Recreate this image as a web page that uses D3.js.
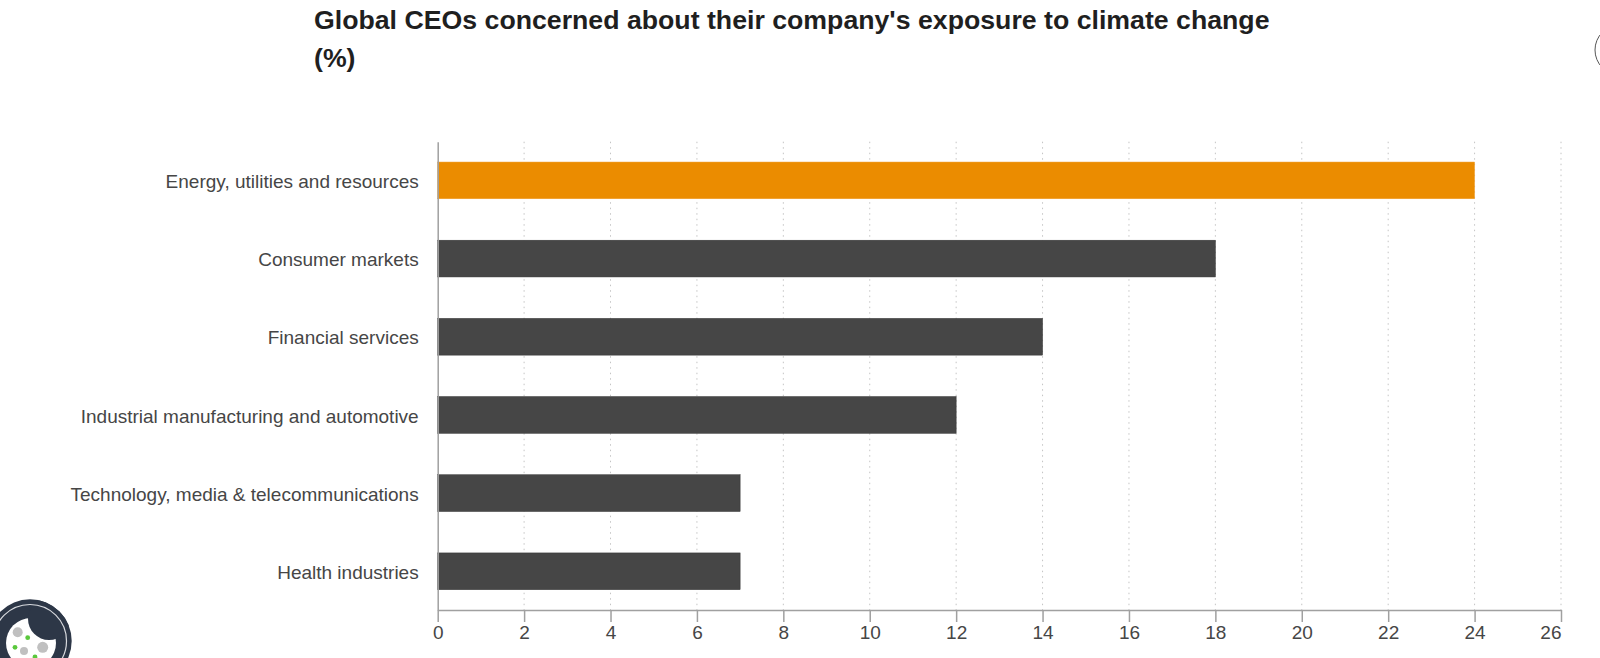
<!DOCTYPE html>
<html>
<head>
<meta charset="utf-8">
<script src="https://cdn.jsdelivr.net/npm/d3@7"></script>
<style>
html, body { margin: 0; padding: 0; background: #fff; overflow: hidden; }
text { font-family: "Liberation Sans", Arial, sans-serif; }
</style>
</head>
<body>
<svg id="chart"></svg>
<script>
const categories = [
    'Energy, utilities and resources',
    'Consumer markets',
    'Financial services',
    'Industrial manufacturing and automotive',
    'Technology, media & telecommunications',
    'Health industries',
];
const values = [24, 18, 14, 12, 7, 7];
const barColors = ['#eb8c00', '#464646', '#464646', '#464646', '#464646', '#464646'];
const barEdges = ['#f0a030', '#333333', '#333333', '#333333', '#333333', '#333333'];
const xTicks = [0, 2, 4, 6, 8, 10, 12, 14, 16, 18, 20, 22, 24, 26];
const titleLines = ["Global CEOs concerned about their company's exposure to climate change", '(%)'];

const width = 1600, height = 658;
const margin = { top: 141.7, right: 39, bottom: 48, left: 437.7 };
const plotW = width - margin.left - margin.right;
const plotH = height - margin.top - margin.bottom;

const svg = d3.select('#chart').attr('width', width).attr('height', height);

svg.selectAll('.title')
    .data(titleLines)
    .join('text')
    .attr('class', 'title')
    .attr('x', 314)
    .attr('y', (d, i) => 29 + i * 37.5)
    .attr('font-size', 26.7)
    .attr('font-weight', 'bold')
    .attr('fill', '#1f1f1f')
    .text(d => d);

const xScale = d3.scaleLinear().domain([0, 26]).range([0, plotW]);
const yScale = d3.scaleBand().domain(categories).range([0, plotH]).paddingInner(0.53).paddingOuter(0.26);

const g = svg.append('g').attr('transform', `translate(${margin.left}, ${margin.top})`);

// dotted grid behind the bars
g.selectAll('.grid')
    .data(xTicks.slice(1))
    .join('line')
    .attr('class', 'grid')
    .attr('x1', d => xScale(d))
    .attr('x2', d => xScale(d))
    .attr('y1', 0)
    .attr('y2', plotH)
    .attr('stroke', '#c4c4c4')
    .attr('stroke-width', 1)
    .attr('stroke-dasharray', '1.5 4');

g.selectAll('.bar')
    .data(categories)
    .join('rect')
    .attr('class', 'bar')
    .attr('x', 0)
    .attr('y', d => yScale(d))
    .attr('width', (d, i) => xScale(values[i]))
    .attr('height', yScale.bandwidth())
    .attr('fill', (d, i) => barColors[i])
    .attr('stroke', (d, i) => barEdges[i])
    .attr('stroke-width', 0.5);

const xAxis = g.append('g')
    .attr('transform', `translate(0, ${plotH})`)
    .call(d3.axisBottom(xScale).tickValues(xTicks).tickSize(12).tickPadding(3.5).tickSizeOuter(0));
xAxis.select('.domain').attr('stroke', '#a0a0a0').attr('stroke-width', 1.5);
xAxis.selectAll('.tick line').attr('stroke', '#a0a0a0').attr('stroke-width', 1.5);
xAxis.selectAll('.tick text')
    .attr('font-size', 19)
    .attr('font-family', '"Liberation Sans", Arial, sans-serif')
    .attr('fill', '#464646')
    .attr('text-anchor', d => (d === 26 ? 'end' : 'middle'));

const yAxis = g.append('g')
    .call(d3.axisLeft(yScale).tickSize(0).tickPadding(19));
yAxis.select('.domain').attr('stroke', '#a0a0a0').attr('stroke-width', 1.5);
yAxis.selectAll('.tick text')
    .attr('font-size', 19)
    .attr('font-family', '"Liberation Sans", Arial, sans-serif')
    .attr('fill', '#464646')
    .attr('y', 1.5);

// cookie badge, bottom left
const badge = svg.append('g');
svg.append('clipPath').attr('id', 'badge-clip')
    .append('circle').attr('cx', 30).attr('cy', 641).attr('r', 41.7);
badge.append('circle').attr('cx', 30).attr('cy', 641).attr('r', 41.7).attr('fill', '#2d3747');
badge.append('circle').attr('cx', 31).attr('cy', 643).attr('r', 25).attr('fill', '#fff');
badge.append('circle').attr('cx', 49).attr('cy', 619).attr('r', 21).attr('fill', '#2d3747')
    .attr('clip-path', 'url(#badge-clip)');
badge.append('circle').attr('cx', 30).attr('cy', 641).attr('r', 36.5).attr('fill', 'none').attr('stroke', '#d8dade').attr('stroke-width', 1.2);
badge.append('circle').attr('cx', 17.7).attr('cy', 632.3).attr('r', 5).attr('fill', '#c0c0c0');
badge.append('circle').attr('cx', 42.7).attr('cy', 647.3).attr('r', 5.5).attr('fill', '#c0c0c0');
badge.append('circle').attr('cx', 24).attr('cy', 651).attr('r', 4).attr('fill', '#c0c0c0');
badge.append('circle').attr('cx', 27.7).attr('cy', 637.7).attr('r', 2.4).attr('fill', '#5ac83c');
badge.append('circle').attr('cx', 15).attr('cy', 647.3).attr('r', 2.4).attr('fill', '#5ac83c');
badge.append('circle').attr('cx', 35).attr('cy', 657).attr('r', 2.4).attr('fill', '#5ac83c');

// clipped circle at the right edge
svg.append('circle')
    .attr('cx', 1620)
    .attr('cy', 50)
    .attr('r', 25)
    .attr('fill', 'none')
    .attr('stroke', '#555')
    .attr('stroke-width', 1);
</script>
</body>
</html>
